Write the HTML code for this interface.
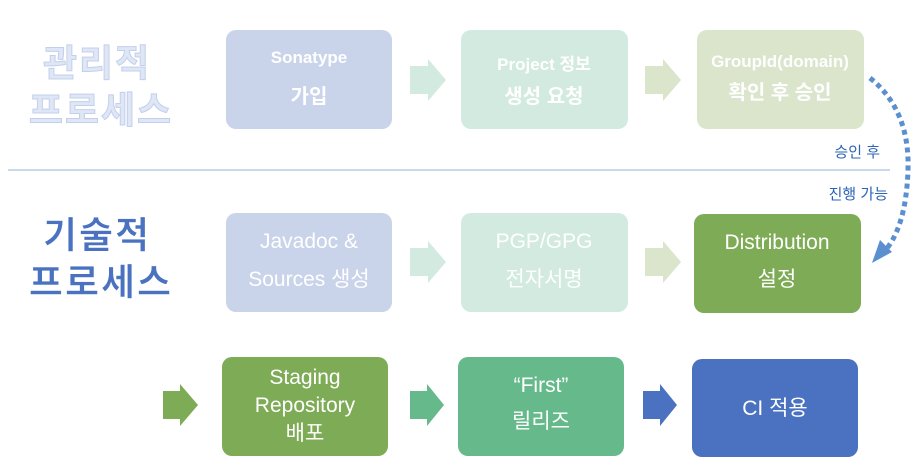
<!DOCTYPE html>
<html><head><meta charset="utf-8"><style>
html,body{margin:0;padding:0;background:#fff;}
svg{display:block;}
text{font-family:"Liberation Sans","Noto Sans CJK KR",sans-serif;}
</style></head><body>
<svg width="918" height="466" viewBox="0 0 918 466" xmlns="http://www.w3.org/2000/svg">
<line x1="8" y1="170" x2="890" y2="170" stroke="#b6cde6" stroke-width="1.5"/>
<!-- left labels -->
<g font-size="37" font-weight="bold" text-anchor="middle" letter-spacing="2">
<text x="97" y="76" fill="#dfe6f5" stroke="#c3d0ec" stroke-width="1">관리적</text>
<text x="101" y="123" fill="#dfe6f5" stroke="#c3d0ec" stroke-width="1">프로세스</text>
<text x="97" y="248" fill="#4a72c0" stroke="#ffffff" stroke-width="0.6">기술적</text>
<text x="101" y="295" fill="#4a72c0" stroke="#ffffff" stroke-width="0.6">프로세스</text>
</g>
<!-- row1 -->
<rect x="226" y="30" width="166" height="99" rx="10" fill="#c9d3ea"/>
<rect x="461" y="30" width="167" height="99" rx="10" fill="#d2eadf"/>
<rect x="697" y="30" width="167" height="99" rx="10" fill="#dae5cc"/>
<polygon points="410,66 428,66 428,59 446,80 428,101 428,94 410,94" fill="#d2eadf"/>
<polygon points="645,66 663,66 663,59 681,80 663,101 663,94 645,94" fill="#dae5cc"/>
<g fill="#fff" text-anchor="middle" font-weight="bold">
<text x="309" y="63" font-size="17">Sonatype</text>
<text x="309" y="103" font-size="20">가입</text>
<text x="544" y="70" font-size="17">Project 정보</text>
<text x="544" y="103" font-size="20">생성 요청</text>
<text x="780" y="67" font-size="17">GroupId(domain)</text>
<text x="780" y="99" font-size="20">확인 후 승인</text>
</g>
<!-- row2 -->
<rect x="226" y="213" width="166" height="99" rx="10" fill="#c9d3ea"/>
<rect x="461" y="213" width="167" height="99" rx="10" fill="#d2eadf"/>
<rect x="694" y="214" width="167" height="99" rx="10" fill="#7eab55"/>
<polygon points="410,248 428,248 428,241 446,262 428,283 428,276 410,276" fill="#d2eadf"/>
<polygon points="645,248 663,248 663,241 681,262 663,283 663,276 645,276" fill="#dae5cc"/>
<g fill="#fff" text-anchor="middle">
<text x="309" y="248" font-size="21">Javadoc &amp;</text>
<text x="309" y="286" font-size="21">Sources 생성</text>
<text x="544" y="248" font-size="21">PGP/GPG</text>
<text x="544" y="286" font-size="21">전자서명</text>
<text x="777" y="249" font-size="21">Distribution</text>
<text x="777" y="286" font-size="21">설정</text>
</g>
<!-- dotted curve -->
<path d="M870,78 Q910,110 908,170 Q906,230 882,254" fill="none" stroke="#5b8fd0" stroke-width="5" stroke-dasharray="5,4"/>
<polygon points="872,263 892,252 880,240" fill="#5b8fd0"/>
<g fill="#2e64b5" font-size="15" text-anchor="end">
<text x="880" y="157">승인 후</text>
<text x="888" y="199">진행 가능</text>
</g>
<!-- row3 -->
<rect x="222" y="357" width="166" height="99" rx="10" fill="#7eab55"/>
<rect x="458" y="357" width="166" height="99" rx="10" fill="#66b98a"/>
<rect x="692" y="359" width="166" height="98" rx="10" fill="#4a72c0"/>
<polygon points="163,391 180,391 180,384 198,405 180,426 180,419 163,419" fill="#7eab55"/>
<polygon points="410,391 427,391 427,384 444,405 427,426 427,419 410,419" fill="#66b98a"/>
<polygon points="643,391 660,391 660,384 677,405 660,426 660,419 643,419" fill="#4a72c0"/>
<g fill="#fff" text-anchor="middle" font-size="21">
<text x="305" y="384">Staging</text>
<text x="305" y="412">Repository</text>
<text x="305" y="440">배포</text>
<text x="541" y="392">“First”</text>
<text x="541" y="428">릴리즈</text>
<text x="775" y="415">CI 적용</text>
</g>
</svg>
</body></html>
